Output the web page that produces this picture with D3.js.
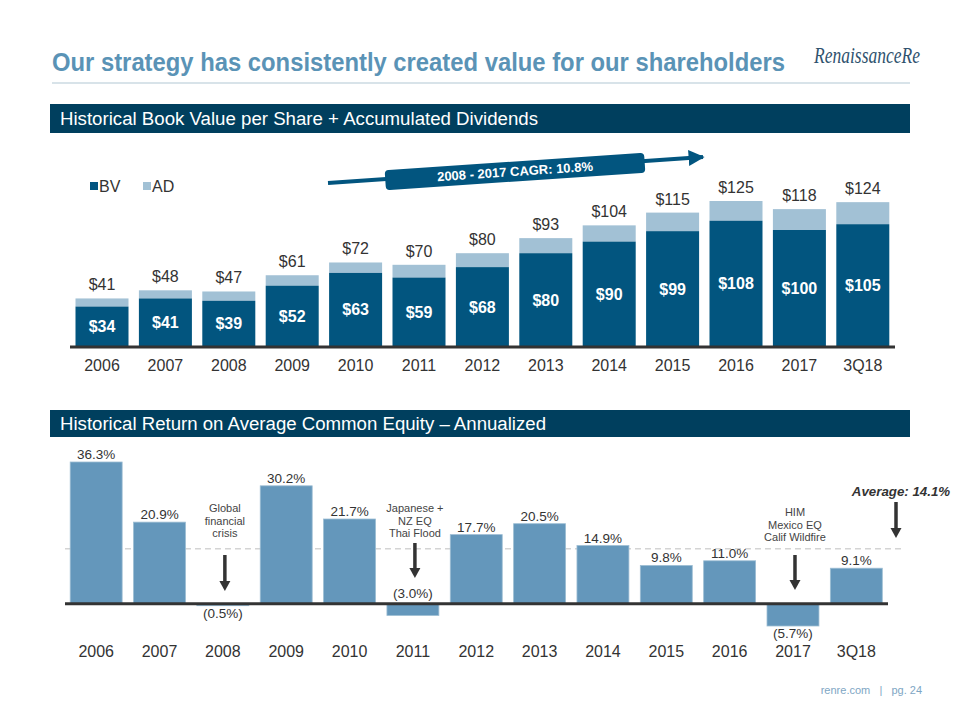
<!DOCTYPE html>
<html><head><meta charset="utf-8">
<script src="https://cdn.jsdelivr.net/npm/d3@7"></script>
<style>body{margin:0;background:#fff}svg{display:block}text{font-family:"Liberation Sans",Arial,sans-serif}</style>
</head><body><svg id="c" width="960" height="720"></svg>
<script>
const categories = ["2006","2007","2008","2009","2010","2011","2012","2013","2014","2015","2016","2017","3Q18"];
const bookValue = [34,41,39,52,63,59,68,80,90,99,108,100,105];
const totalValue = [41,48,47,61,72,70,80,93,104,115,125,118,124];
const roe = [36.3,20.9,-0.5,30.2,21.7,-3.0,17.7,20.5,14.9,9.8,11.0,-5.7,9.1];
const averageRoe = 14.1;
const annotations = [
  {cat:"2008", lines:["Global","financial","crisis"]},
  {cat:"2011", lines:["Japanese +","NZ EQ","Thai Flood"]},
  {cat:"2017", lines:["HIM","Mexico EQ","Calif Wildfire"]}
];
const cagrText = "2008 - 2017 CAGR: 10.8%";

const C = {dark:"#02557f", light:"#a2c1d5", navy:"#003f5e", title:"#5a93b6", roe:"#6497bb", txt:"#333"};
const svg = d3.select("#c");

// Title
svg.append("text").attr("x",52).attr("y",71).attr("font-size",25).attr("font-weight","bold")
  .attr("fill",C.title).attr("textLength",733).attr("lengthAdjust","spacingAndGlyphs")
  .text("Our strategy has consistently created value for our shareholders");
svg.append("text").attr("x",814).attr("y",63).attr("font-size",23).attr("font-style","italic")
  .style("font-family","'Liberation Serif','DejaVu Serif',serif").attr("fill","#2f526e")
  .attr("textLength",106).attr("lengthAdjust","spacingAndGlyphs").text("RenaissanceRe");
svg.append("line").attr("x1",52).attr("x2",910).attr("y1",83).attr("y2",83).attr("stroke","#d8e3e9").attr("stroke-width",2);

function header(y, h, label, len){
  svg.append("rect").attr("x",50).attr("y",y).attr("width",860).attr("height",h).attr("fill",C.navy);
  svg.append("text").attr("x",60).attr("y",y+h/2+6.5).attr("font-size",18).attr("fill","#fff")
    .attr("textLength",len).attr("lengthAdjust","spacingAndGlyphs").text(label);
}
header(104,29,"Historical Book Value per Share + Accumulated Dividends",478);
header(410,27,"Historical Return on Average Common Equity \u2013 Annualized",486);

// Top chart
const x1 = d3.scaleBand().domain(categories).range([70.3,894.5]).paddingInner(0.164).paddingOuter(0.082);
const y1 = d3.scaleLinear().domain([0,125]).range([346,201]);
const gTop = svg.append("g");
categories.forEach((c,i)=>{
  gTop.append("rect").attr("x",x1(c)).attr("width",x1.bandwidth())
    .attr("y",y1(totalValue[i])).attr("height",y1(bookValue[i])-y1(totalValue[i])).attr("fill",C.light);
  gTop.append("rect").attr("x",x1(c)).attr("width",x1.bandwidth())
    .attr("y",y1(bookValue[i])).attr("height",y1(0)-y1(bookValue[i])).attr("fill",C.dark);
  const cx = x1(c)+x1.bandwidth()/2;
  gTop.append("text").attr("x",cx).attr("y",y1(totalValue[i])-8).attr("text-anchor","middle")
    .attr("font-size",16).attr("fill",C.txt).text("$"+totalValue[i]);
  gTop.append("text").attr("x",cx).attr("y",(y1(bookValue[i])+y1(0))/2+6).attr("text-anchor","middle")
    .attr("font-size",16).attr("font-weight","bold").attr("fill","#fff").text("$"+bookValue[i]);
});
gTop.append("line").attr("x1",70).attr("x2",895).attr("y1",y1(0)+1).attr("y2",y1(0)+1).attr("stroke","#333").attr("stroke-width",3);
const ax1 = d3.axisBottom(x1).tickSize(0).tickPadding(0);
const gA1 = svg.append("g").attr("transform","translate(0,360)").call(ax1);
gA1.select(".domain").remove();
gA1.selectAll("text").attr("font-size",16).attr("fill",C.txt).attr("dy","0.71em");

// Legend
[["BV",C.dark,90],["AD",C.light,143]].forEach(([t,col,x])=>{
  svg.append("rect").attr("x",x).attr("y",182).attr("width",8).attr("height",8).attr("fill",col);
  svg.append("text").attr("x",x+9).attr("y",192).attr("font-size",16).attr("fill",C.txt).text(t);
});

// CAGR arrow
const ang = -3.9;
const defs = svg.append("defs");
defs.append("marker").attr("id","ah").attr("viewBox","0 0 10 10").attr("refX",9).attr("refY",5)
  .attr("markerWidth",4).attr("markerHeight",4).attr("orient","auto")
  .append("path").attr("d","M0,0L10,5L0,10Z").attr("fill",C.dark);
svg.append("line").attr("x1",328).attr("y1",183).attr("x2",703).attr("y2",157)
  .attr("stroke",C.dark).attr("stroke-width",4).attr("marker-end","url(#ah)");
const cg = svg.append("g").attr("transform",`translate(515,171.5) rotate(${ang})`);
cg.append("rect").attr("x",-130).attr("y",-10).attr("width",260).attr("height",20).attr("rx",4).attr("fill",C.dark);
cg.append("text").attr("x",0).attr("y",4.5).attr("text-anchor","middle").attr("font-size",13)
  .attr("font-weight","bold").attr("fill","#fff").text(cagrText);

// Bottom chart
const x2 = d3.scaleBand().domain(categories).range([64.5,888]).paddingInner(0.18).paddingOuter(0.09);
const y2 = d3.scaleLinear().domain([-5.7,36.3]).range([626,462]);
const bot = svg.append("g");
bot.append("line").attr("x1",65).attr("x2",904).attr("y1",y2(averageRoe)).attr("y2",y2(averageRoe))
  .attr("stroke","#d4d4d4").attr("stroke-width",1.5).attr("stroke-dasharray","6,4");
const fmt = v => v<0 ? "("+Math.abs(v).toFixed(1)+"%)" : v.toFixed(1)+"%";
const labelAboveAxis = ["2011"];
categories.forEach((c,i)=>{
  const v = roe[i];
  const yT = Math.min(y2(v),y2(0)), h = Math.abs(y2(v)-y2(0));
  bot.append("rect").attr("x",x2(c)).attr("width",x2.bandwidth()).attr("y",yT).attr("height",h)
    .attr("fill",C.roe).attr("stroke","#9cbdd3").attr("stroke-width",0.8);
  const cx = x2(c)+x2.bandwidth()/2;
  let ly;
  if (v>=0) ly = y2(v)-3;
  else if (labelAboveAxis.includes(c)) ly = y2(0)-6;
  else ly = y2(v)+12;
  bot.append("text").attr("x",cx).attr("y",ly).attr("text-anchor","middle").attr("font-size",13.5)
    .attr("fill",C.txt).text(fmt(v));
});
bot.append("line").attr("x1",65).attr("x2",888).attr("y1",y2(0)).attr("y2",y2(0)).attr("stroke","#333").attr("stroke-width",3);
const gA2 = svg.append("g").attr("transform","translate(0,646)").call(d3.axisBottom(x2).tickSize(0).tickPadding(0));
gA2.select(".domain").remove();
gA2.selectAll("text").attr("font-size",16).attr("fill",C.txt).attr("dy","0.71em");

function downArrow(x, yA, yB){
  bot.append("line").attr("x1",x).attr("x2",x).attr("y1",yA).attr("y2",yB-8).attr("stroke","#333").attr("stroke-width",3.5);
  bot.append("path").attr("d",`M${x-5.5},${yB-10}L${x+5.5},${yB-10}L${x},${yB}Z`).attr("fill","#333");
}
const annTop = {"2008":508,"2011":508,"2017":512};
const annArrow = {"2008":[555,591],"2011":[543,578],"2017":[555,590]};
annotations.forEach(a=>{
  const cx = x2(a.cat)+x2.bandwidth()/2 + 2;
  a.lines.forEach((l,j)=>{
    bot.append("text").attr("x",cx).attr("y",annTop[a.cat]+4+j*12.6).attr("text-anchor","middle")
      .attr("font-size",11).attr("fill","#444").text(l);
  });
  downArrow(cx, annArrow[a.cat][0], annArrow[a.cat][1]);
});
bot.append("text").attr("x",901).attr("y",496).attr("text-anchor","middle").attr("font-size",13.3)
  .attr("font-weight","bold").attr("font-style","italic").attr("fill","#333").text("Average: "+averageRoe.toFixed(1)+"%");
downArrow(896,502,538);

// Footer
svg.append("text").attr("x",922).attr("y",694).attr("text-anchor","end").attr("font-size",11)
  .attr("fill","#7ea6c4").style("white-space","pre").text("renre.com   |   pg. 24");
</script></body></html>
